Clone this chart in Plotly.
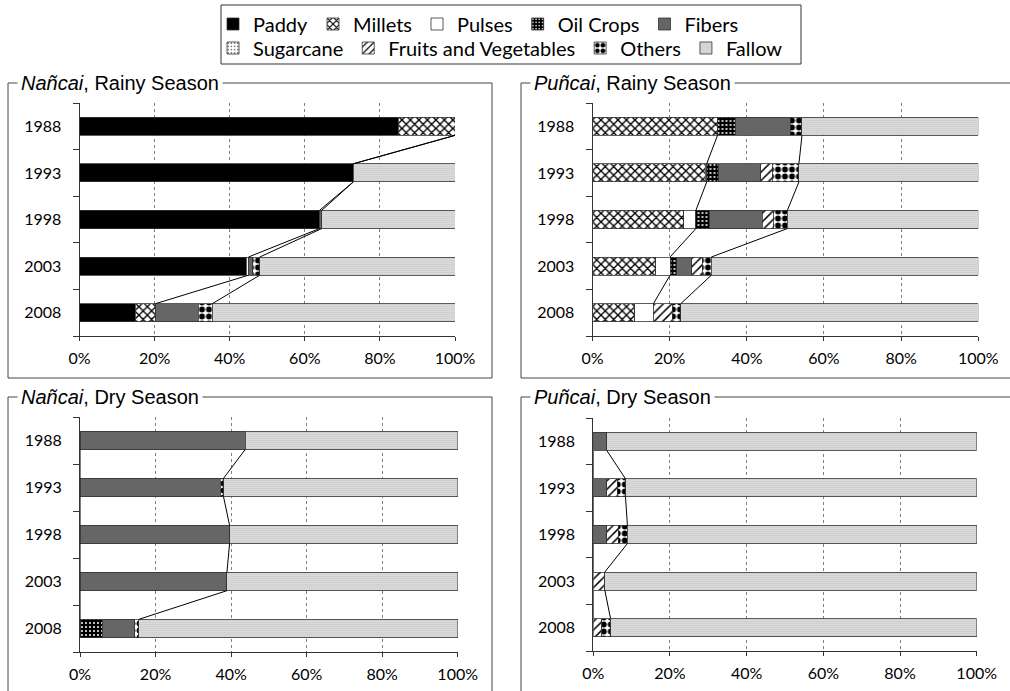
import plotly.graph_objects as go

YEARS = ["1988", "1993", "1998", "2003", "2008"]
CROPS = ["Paddy", "Millets", "Pulses", "Oil Crops", "Fibers", "Sugarcane",
         "Fruits and Vegetables", "Others", "Fallow"]
X_TICKS = [0, 20, 40, 60, 80, 100]
X_TICKTEXT = ["0%", "20%", "40%", "60%", "80%", "100%"]

# ---- Nañcai, Rainy Season (% of area) ----
NR_PADDY = [84.9, 72.9, 63.9, 44.4, 14.9]
NR_MILLETS = [15.1, 0, 0, 0, 5.4]
NR_PULSES = [0, 0, 0, 0.6, 0]
NR_OIL = [0, 0, 0, 0, 0]
NR_FIBERS = [0, 0, 0.6, 1.2, 11.3]
NR_SUGAR = [0, 0, 0, 0, 0]
NR_FRUITVEG = [0, 0, 0, 0, 0]
NR_OTHERS = [0, 0, 0, 1.8, 3.8]
NR_FALLOW = [0, 27.1, 35.5, 52.0, 64.6]

# ---- Puñcai, Rainy Season ----
PR_PADDY = [0, 0, 0, 0, 0]
PR_MILLETS = [32.4, 29.2, 23.7, 16.4, 10.9]
PR_PULSES = [0, 0.4, 3.1, 3.7, 4.9]
PR_OIL = [4.6, 3.0, 3.4, 1.7, 0]
PR_FIBERS = [14.2, 11.0, 13.8, 3.9, 0]
PR_SUGAR = [0, 0, 0, 0, 0]
PR_FRUITVEG = [0, 3.0, 2.8, 2.8, 4.9]
PR_OTHERS = [3.1, 6.9, 3.7, 2.3, 2.2]
PR_FALLOW = [45.7, 46.5, 49.5, 69.2, 77.1]

# ---- Nañcai, Dry Season ----
ND_PADDY = [0, 0, 0, 0, 0]
ND_MILLETS = [0, 0, 0, 0, 0]
ND_PULSES = [0, 0, 0, 0, 0]
ND_OIL = [0, 0, 0, 0, 5.9]
ND_FIBERS = [43.7, 37.1, 39.6, 38.9, 8.6]
ND_SUGAR = [0, 0, 0, 0, 0]
ND_FRUITVEG = [0, 0, 0, 0, 0]
ND_OTHERS = [0, 0.9, 0, 0, 1.1]
ND_FALLOW = [56.3, 62.0, 60.4, 61.1, 84.4]

# ---- Puñcai, Dry Season ----
PD_PADDY = [0, 0, 0, 0, 0]
PD_MILLETS = [0, 0, 0, 0, 0]
PD_PULSES = [0, 0, 0, 0, 0]
PD_OIL = [0, 0, 0, 0, 0]
PD_FIBERS = [3.5, 3.5, 3.5, 0, 0]
PD_SUGAR = [0, 0, 0, 0, 0]
PD_FRUITVEG = [0, 2.8, 3.0, 3.0, 2.2]
PD_OTHERS = [0, 2.1, 2.4, 0, 2.3]
PD_FALLOW = [96.5, 91.6, 91.1, 97.0, 95.5]

NR = [NR_PADDY, NR_MILLETS, NR_PULSES, NR_OIL, NR_FIBERS, NR_SUGAR, NR_FRUITVEG, NR_OTHERS, NR_FALLOW]
PR = [PR_PADDY, PR_MILLETS, PR_PULSES, PR_OIL, PR_FIBERS, PR_SUGAR, PR_FRUITVEG, PR_OTHERS, PR_FALLOW]
ND = [ND_PADDY, ND_MILLETS, ND_PULSES, ND_OIL, ND_FIBERS, ND_SUGAR, ND_FRUITVEG, ND_OTHERS, ND_FALLOW]
PD = [PD_PADDY, PD_MILLETS, PD_PULSES, PD_OIL, PD_FIBERS, PD_SUGAR, PD_FRUITVEG, PD_OTHERS, PD_FALLOW]

# series lines drawn at the end of these crops
LINE_CROPS = ["Pulses", "Others"]

# ---------- styles ----------
W, H = 1010, 691
STYLE = {
    "Paddy": dict(color="black", pattern=dict(shape="")),
    "Millets": dict(color="white", pattern=dict(shape="x", fgcolor="black", bgcolor="white",
                                                 size=6, solidity=0.4, fillmode="replace")),
    "Pulses": dict(color="white", pattern=dict(shape="")),
    "Oil Crops": dict(color="black", pattern=dict(shape=".", fgcolor="white", bgcolor="black",
                                                   size=4, solidity=0.2, fillmode="replace")),
    "Fibers": dict(color="#666666", pattern=dict(shape="")),
    "Sugarcane": dict(color="white", pattern=dict(shape=".", fgcolor="black", bgcolor="white",
                                                   size=4, solidity=0.15, fillmode="replace")),
    "Fruits and Vegetables": dict(color="white", pattern=dict(shape="/", fgcolor="black",
                                                               bgcolor="white", size=6,
                                                               solidity=0.25, fillmode="replace")),
    "Others": dict(color="white", pattern=dict(shape=".", fgcolor="black", bgcolor="white",
                                                size=7, solidity=0.55, fillmode="replace")),
    "Fallow": dict(color="#e0e0e0", pattern=dict(shape=".", fgcolor="#8a8a8a", bgcolor="#ececec",
                                                  size=2, solidity=0.3, fillmode="replace")),
}
ROW1 = CROPS[:5]

BAR_W = 0.39
TEXT_FONT = dict(family="Lato", size=16, color="black")


def px_x(v):
    return v / W


def px_y(v):
    return 1 - v / H


# pixel boxes of each plot area: (x0, x1, ytop, ybottom) and frame (left, top, right, bottom)
PANELS = [
    ("<i>Nañcai</i>, Rainy Season", NR, (79.5, 455.0, 103.0, 336.0), (8, 83, 492, 378)),
    ("<i>Puñcai</i>, Rainy Season", PR, (592.5, 978.3, 103.0, 336.0), (521, 83, 1020, 378)),
    ("<i>Nañcai</i>, Dry Season", ND, (80.0, 457.7, 417.0, 652.0), (8, 397, 492, 700)),
    ("<i>Puñcai</i>, Dry Season", PD, (593.3, 976.7, 418.0, 651.0), (521, 397, 1020, 700)),
]

fig = go.Figure()
shapes = []
annotations = []
yidx = list(range(len(YEARS)))

for pi, (title, data, box, frame) in enumerate(PANELS):
    sfx = "" if pi == 0 else str(pi + 1)
    xa, ya = "x" + sfx, "y" + sfx
    for ci, crop in enumerate(CROPS):
        vals = [v if v else None for v in data[ci]]
        st = STYLE[crop]
        fig.add_trace(go.Bar(
            x=vals, y=yidx, orientation="h", name=crop, width=BAR_W,
            xaxis=xa, yaxis=ya,
            marker=dict(color=st["color"], pattern=st["pattern"],
                        line=dict(color="#333333", width=0.8)),
            showlegend=(pi == 0),
            legend="legend" if crop in ROW1 else "legend2",
            legendgroup=crop, hoverinfo="skip",
        ))
    # series lines connecting cumulative ends between consecutive bars
    for lc in LINE_CROPS:
        k = CROPS.index(lc)
        cum = [sum(data[c][i] for c in range(k + 1)) for i in yidx]
        lx, ly = [], []
        for i in yidx[:-1]:
            lx += [cum[i], cum[i + 1], None]
            ly += [i + BAR_W / 2, i + 1 - BAR_W / 2, None]
        fig.add_trace(go.Scatter(x=lx, y=ly, mode="lines", xaxis=xa, yaxis=ya,
                                 line=dict(color="black", width=1), showlegend=False,
                                 hoverinfo="skip", cliponaxis=False))
    x0, x1, yt, yb = box
    fig.update_layout(**{
        "xaxis" + sfx: dict(domain=[px_x(x0), px_x(x1)], range=[0, 100], anchor=ya,
                            tickmode="array", tickvals=X_TICKS, ticktext=X_TICKTEXT,
                            showgrid=True, gridcolor="#808080", griddash="dot", gridwidth=1,
                            showline=True, linecolor="#333333", linewidth=1,
                            ticks="outside", ticklen=4, tickcolor="#333333",
                            ticklabelstandoff=4, automargin=False,
                            tickfont=TEXT_FONT, zeroline=False, fixedrange=True),
        "yaxis" + sfx: dict(domain=[px_y(yb), px_y(yt)], range=[4.5, -0.5], anchor=xa,
                            tickmode="array", tickvals=yidx, ticktext=YEARS,
                            ticks="outside", ticklen=14, tickcolor="rgba(0,0,0,0)",
                            showline=True, linecolor="#333333", linewidth=1,
                            minor=dict(tickmode="array",
                                       tickvals=[v - 0.5 for v in yidx] + [len(YEARS) - 0.5],
                                       ticks="outside", ticklen=6, tickcolor="#333333"),
                            showgrid=False, zeroline=False, tickfont=TEXT_FONT,
                            automargin=False, fixedrange=True),
    })
    fl, ft, fr, fb = frame
    shapes.append(dict(type="rect", xref="paper", yref="paper",
                       x0=px_x(fl), x1=px_x(fr), y0=px_y(fb), y1=px_y(ft),
                       line=dict(color="#444444", width=1), fillcolor="rgba(0,0,0,0)",
                       layer="below"))
    annotations.append(dict(text=title, xref="paper", yref="paper",
                            x=px_x(fl + 9), y=px_y(ft), xanchor="left", yanchor="middle",
                            showarrow=False, bgcolor="white", borderpad=3,
                            font=dict(family="Liberation Sans", size=20, color="black")))

# legend frame
shapes.append(dict(type="rect", xref="paper", yref="paper",
                   x0=px_x(221), x1=px_x(801), y0=px_y(64), y1=px_y(5),
                   line=dict(color="#333333", width=1), fillcolor="white", layer="below"))

LEG_FONT = dict(family="Lato", size=20, color="black")
fig.update_layout(
    width=W, height=H, margin=dict(l=0, r=0, t=0, b=0, autoexpand=False),
    paper_bgcolor="white", plot_bgcolor="white",
    barmode="stack",
    shapes=shapes, annotations=annotations,
    legend=dict(orientation="h", x=px_x(213), y=px_y(24), xanchor="left", yanchor="middle",
                font=LEG_FONT, bgcolor="rgba(0,0,0,0)", traceorder="normal",
                itemclick=False, itemdoubleclick=False),
    legend2=dict(orientation="h", x=px_x(213), y=px_y(48), xanchor="left", yanchor="middle",
                 font=LEG_FONT, bgcolor="rgba(0,0,0,0)", traceorder="normal",
                 itemclick=False, itemdoubleclick=False),
)

fig.write_html("out.html", config={"displayModeBar": False},
               post_script="document.body.style.margin='0';document.body.style.overflow='hidden';")
